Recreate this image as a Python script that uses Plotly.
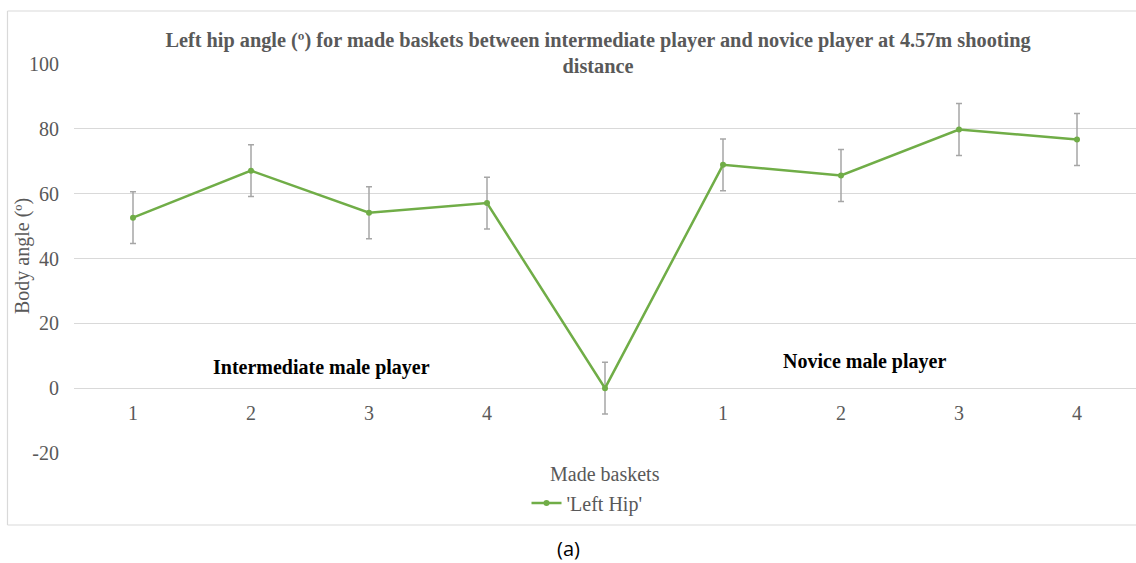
import plotly.graph_objects as go

# Basket sequence: 4 intermediate shots, a zero separator, 4 novice shots
positions = [0, 1, 2, 3, 4, 5, 6, 7, 8]
tick_labels = ["1", "2", "3", "4", "", "1", "2", "3", "4"]
left_hip = [52.6, 67.1, 54.1, 57.1, 0.0, 68.9, 65.6, 79.8, 76.7]
left_hip_err = [8, 8, 8, 8, 8, 8, 8, 8, 8]
y_ticks = [-20, 0, 20, 40, 60, 80, 100]
y_tick_text = ["-20", "0", "20", "40", "60", "80", "100"]

SERIF = "Liberation Serif, Times New Roman, serif"
GRAY_TXT = "#595959"

L, R, T, B = 74, 1136, 64, 453
H_PLOT = B - T
zero_frac = (B - 388) / H_PLOT
px_x = lambda px: (px - L) / (R - L)
px_y = lambda py: (B - py) / H_PLOT

fig = go.Figure()
fig.add_trace(go.Scatter(
    x=positions, y=left_hip,
    mode="lines+markers",
    name="'Left Hip'",
    line=dict(color="#70AD47", width=2.5),
    marker=dict(color="#70AD47", size=6),
    error_y=dict(type="data", array=left_hip_err, visible=True,
                 color="#A6A6A6", thickness=1.5, width=3),
))

fig.update_layout(
    width=1136, height=563,
    margin=dict(l=L, r=1136 - R, t=T, b=563 - B, autoexpand=False),
    paper_bgcolor="white", plot_bgcolor="white",
    font=dict(family=SERIF, color=GRAY_TXT, size=20),
    title=dict(
        text="Left hip angle (º) for made baskets between intermediate player and novice player at 4.57m shooting<br>distance",
        x=598 / 1136, xanchor="center", y=1 - 47 / 563, yanchor="middle",
        font=dict(family=SERIF, size=20.3, color=GRAY_TXT, weight="bold"),
    ),
    xaxis=dict(
        range=[-0.5, 8.5],
        tickvals=positions, ticktext=tick_labels,
        showgrid=False, zeroline=False, showline=False, ticks="",
        anchor="free", position=zero_frac,
        ticklabelstandoff=11,
        tickfont=dict(size=20, color=GRAY_TXT),
    ),
    yaxis=dict(
        range=[-20, 100], tickvals=y_ticks, ticktext=y_tick_text,
        showgrid=True, gridcolor="#D9D9D9", gridwidth=1,
        zeroline=False, showline=False, ticks="",
        ticklabelstandoff=14,
        tickfont=dict(size=20, color=GRAY_TXT),
    ),
    showlegend=True,
    legend=dict(orientation="h", x=px_x(587), xanchor="center",
                y=(563 - 503) / 563, yanchor="middle",
                yref="container",
                font=dict(size=20, color=GRAY_TXT),
                itemwidth=30, bgcolor="rgba(0,0,0,0)"),
)

# chart frame (left, top, bottom edges)
frame = dict(type="line", xref="paper", yref="paper", line=dict(color="#D9D9D9", width=1.2))
fig.add_shape(**frame, x0=px_x(7.5), x1=px_x(7.5), y0=px_y(11), y1=px_y(525))
fig.add_shape(**frame, x0=px_x(7.5), x1=1, y0=px_y(11), y1=px_y(11))
fig.add_shape(**frame, x0=px_x(7.5), x1=1, y0=px_y(525), y1=px_y(525))

centered = dict(xanchor="center", yanchor="middle", showarrow=False)

# y-axis title
fig.add_annotation(x=px_x(22), y=px_y(256), xref="paper", yref="paper",
                   text="Body angle (º)", textangle=-90, **centered,
                   font=dict(family=SERIF, size=20, color=GRAY_TXT))

# group labels
fig.add_annotation(x=1.6, y=6.5, xref="x", yref="y", text="<b>Intermediate male player</b>",
                   **centered, font=dict(family=SERIF, size=20, color="black"))
fig.add_annotation(x=6.2, y=8.3, xref="x", yref="y", text="<b>Novice male player</b>",
                   **centered, font=dict(family=SERIF, size=20, color="black"))

# x-axis title
fig.add_annotation(x=px_x(605), y=px_y(474), xref="paper", yref="paper",
                   text="Made baskets", **centered,
                   font=dict(family=SERIF, size=20, color=GRAY_TXT))

# caption
fig.add_annotation(x=px_x(568), y=px_y(548), xref="paper", yref="paper",
                   text="(a)", **centered,
                   font=dict(family="Open Sans, Liberation Sans, sans-serif", size=20, color="black"))

fig.write_html("out.html")
